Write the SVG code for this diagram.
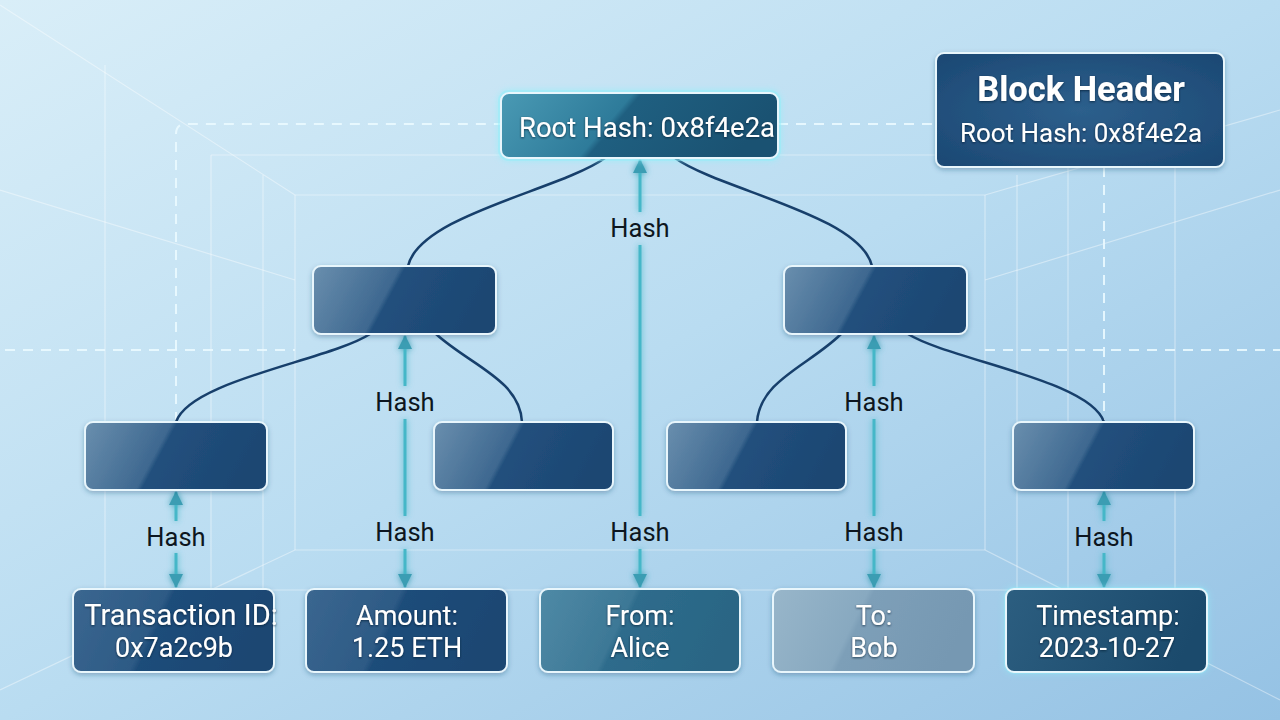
<svg xmlns="http://www.w3.org/2000/svg" width="1280" height="720" viewBox="0 0 1280 720">
<defs>
  <linearGradient id="bg" x1="0" y1="0" x2="1" y2="1">
    <stop offset="0" stop-color="#d9eef8"/>
    <stop offset="0.5" stop-color="#b9dcf1"/>
    <stop offset="1" stop-color="#95c2e4"/>
  </linearGradient>
  <linearGradient id="gDark" x1="0" y1="0" x2="1" y2="0.2">
    <stop offset="0" stop-color="#6a8fae"/>
    <stop offset="0.46" stop-color="#3e6890"/>
    <stop offset="0.49" stop-color="#22507d"/>
    <stop offset="1" stop-color="#1c4672"/>
  </linearGradient>
  <linearGradient id="gLeafDark" x1="0" y1="0" x2="1" y2="0.2">
    <stop offset="0" stop-color="#3b6790"/>
    <stop offset="0.46" stop-color="#2d5a85"/>
    <stop offset="0.49" stop-color="#1f4d7a"/>
    <stop offset="1" stop-color="#1a4672"/>
  </linearGradient>
  <linearGradient id="gTeal" x1="0" y1="0" x2="1" y2="0.2">
    <stop offset="0" stop-color="#4f8aa6"/>
    <stop offset="0.46" stop-color="#3d7896"/>
    <stop offset="0.49" stop-color="#2e6c8c"/>
    <stop offset="1" stop-color="#2a6584"/>
  </linearGradient>
  <linearGradient id="gGrey" x1="0" y1="0" x2="1" y2="0.2">
    <stop offset="0" stop-color="#98b6ca"/>
    <stop offset="0.46" stop-color="#88a9c0"/>
    <stop offset="0.49" stop-color="#7d9fb8"/>
    <stop offset="1" stop-color="#7698b2"/>
  </linearGradient>
  <linearGradient id="gTs" x1="0" y1="0" x2="1" y2="0.2">
    <stop offset="0" stop-color="#2c5e80"/>
    <stop offset="1" stop-color="#1b4a6c"/>
  </linearGradient>
  <linearGradient id="gRoot" x1="0" y1="0" x2="1" y2="0.2">
    <stop offset="0" stop-color="#4a9ab4"/>
    <stop offset="0.46" stop-color="#2e7b9a"/>
    <stop offset="0.49" stop-color="#1f5f80"/>
    <stop offset="1" stop-color="#1a5272"/>
  </linearGradient>
  <radialGradient id="gHeader" cx="0.5" cy="0.5" r="0.7">
    <stop offset="0" stop-color="#2d5f8c"/>
    <stop offset="1" stop-color="#1b4873"/>
  </radialGradient>
  <filter id="glow" x="-20%" y="-20%" width="140%" height="140%">
    <feGaussianBlur stdDeviation="3" result="b"/>
    <feMerge><feMergeNode in="b"/><feMergeNode in="SourceGraphic"/></feMerge>
  </filter>
  <filter id="shadow" x="-10%" y="-10%" width="120%" height="130%">
    <feDropShadow dx="0" dy="2" stdDeviation="2.5" flood-color="#234a6e" flood-opacity="0.35"/>
  </filter>
  <filter id="tshadow" x="-10%" y="-20%" width="120%" height="140%">
    <feDropShadow dx="0" dy="1" stdDeviation="1.2" flood-color="#061a2e" flood-opacity="0.7"/>
  </filter>
  <marker id="ah" viewBox="0 0 14 14" refX="13" refY="7" markerWidth="14" markerHeight="14" markerUnits="userSpaceOnUse" orient="auto-start-reverse">
    <path d="M0,0 L14,7 L0,14 z" fill="#3a9db3"/>
  </marker>
  <style>
    .room{fill:none;stroke:#ffffff;stroke-opacity:0.4;stroke-width:1.2}
    .dash{fill:none;stroke:#eaf9ff;stroke-opacity:0.9;stroke-width:2;stroke-dasharray:10 8}
    .box{stroke:#e8f6fc;stroke-width:2}
    .conn{fill:none;stroke:#173f6b;stroke-width:2.5}
    .hash{fill:none;stroke:#45b7c8;stroke-width:3}
    .hl{font-family:Roboto,"Liberation Sans",sans-serif;font-size:25.5px;fill:#0d1620;text-anchor:middle}
    .wt{font-family:Roboto,"Liberation Sans",sans-serif;font-size:27px;fill:#ffffff;text-anchor:middle}
  </style>
</defs>
<rect width="1280" height="720" fill="url(#bg)"/>
<g id="room">
  <path class="room" d="M0,5 L295,195 M0,190 L295,280 M1280,110 L985,195 M1280,190 L985,280 M0,690 L295,550 M1280,700 L985,550"/>
  <path class="room" d="M105,65 V670 M211,155 V620 M263,175 V590 M295,195 V550 M985,195 V550 M1017,175 V590 M1068,155 V620 M1175,65 V670"/>
  <path class="room" d="M211,155 H1068 M295,195 H985 M295,550 H985 M211,590 H1068"/>
</g>
<g id="guides">
  <path class="dash" d="M176,422 V134 Q176,124 186,124 H501"/>
  <path class="dash" d="M778,124 H936"/>
  <path class="dash" d="M1104,167 V422"/>
  <path class="dash" d="M5,350 H295"/>
  <path class="dash" d="M985,350 H1280"/>
</g>
<g id="connectors">
  <path class="conn" d="M605,158 C560,190 420,215 408,266"/>
  <path class="conn" d="M675,158 C720,190 860,215 872,266"/>
  <path class="conn" d="M370,334 C330,360 190,380 176,422"/>
  <path class="conn" d="M436,334 C470,365 520,380 522,422"/>
  <path class="conn" d="M841,334 C810,365 760,380 757,422"/>
  <path class="conn" d="M908,334 C950,360 1090,380 1104,422"/>
  <g filter="url(#glow)">
    <path class="hash" d="M176,492 V521 M176,553 V587" marker-start="url(#ah)" marker-end="url(#ah)"/>
    <path class="hash" d="M405,336 V386 M405,419 V516 M405,549 V587" marker-start="url(#ah)" marker-end="url(#ah)"/>
    <path class="hash" d="M640,160 V212 M640,245 V516 M640,549 V587" marker-start="url(#ah)" marker-end="url(#ah)"/>
    <path class="hash" d="M874,336 V386 M874,419 V516 M874,549 V587" marker-start="url(#ah)" marker-end="url(#ah)"/>
    <path class="hash" d="M1104,492 V521 M1104,553 V587" marker-start="url(#ah)" marker-end="url(#ah)"/>
  </g>
  <text class="hl" x="176" y="546">Hash</text>
  <text class="hl" x="405" y="411">Hash</text>
  <text class="hl" x="405" y="541">Hash</text>
  <text class="hl" x="640" y="237">Hash</text>
  <text class="hl" x="640" y="541">Hash</text>
  <text class="hl" x="874" y="411">Hash</text>
  <text class="hl" x="874" y="541">Hash</text>
  <text class="hl" x="1104" y="546">Hash</text>
</g>
<g id="root">
  <rect x="501" y="93" width="277" height="65" rx="8" fill="none" stroke="#8ff0fa" stroke-width="6" opacity="0.6" filter="url(#glow)"/>
  <rect class="box" x="501" y="93" width="277" height="65" rx="8" fill="url(#gRoot)" stroke="#b5f6fc"/>
  <text class="wt" x="647" y="137" style="font-size:27.5px" filter="url(#tshadow)">Root Hash: 0x8f4e2a</text>
</g>
<g id="block-header">
  <rect class="box" x="936" y="53" width="288" height="114" rx="8" fill="url(#gHeader)" filter="url(#shadow)"/>
  <text class="wt" x="1081" y="101" style="font-size:34.5px;font-weight:bold" filter="url(#tshadow)">Block Header</text>
  <text class="wt" x="1081" y="142" style="font-size:26px" filter="url(#tshadow)">Root Hash: 0x8f4e2a</text>
</g>
<g id="hash-l1-left"><rect class="box" x="313" y="266" width="183" height="68" rx="8" fill="url(#gDark)" filter="url(#shadow)"/></g>
<g id="hash-l1-right"><rect class="box" x="784" y="266" width="183" height="68" rx="8" fill="url(#gDark)" filter="url(#shadow)"/></g>
<g id="hash-l2-a"><rect class="box" x="85" y="422" width="182" height="68" rx="8" fill="url(#gDark)" filter="url(#shadow)"/></g>
<g id="hash-l2-b"><rect class="box" x="434" y="422" width="179" height="68" rx="8" fill="url(#gDark)" filter="url(#shadow)"/></g>
<g id="hash-l2-c"><rect class="box" x="667" y="422" width="179" height="68" rx="8" fill="url(#gDark)" filter="url(#shadow)"/></g>
<g id="hash-l2-d"><rect class="box" x="1013" y="422" width="181" height="68" rx="8" fill="url(#gDark)" filter="url(#shadow)"/></g>
<g id="leaf-txid">
  <rect class="box" x="73" y="589" width="201" height="83" rx="8" fill="url(#gLeafDark)" filter="url(#shadow)"/>
  <text class="wt" x="181" y="625" style="font-size:29px" filter="url(#tshadow)">Transaction ID:</text>
  <text class="wt" x="174" y="657" filter="url(#tshadow)">0x7a2c9b</text>
</g>
<g id="leaf-amount">
  <rect class="box" x="306" y="589" width="201" height="83" rx="8" fill="url(#gLeafDark)" filter="url(#shadow)"/>
  <text class="wt" x="407" y="625" filter="url(#tshadow)">Amount:</text>
  <text class="wt" x="407" y="657" filter="url(#tshadow)">1.25 ETH</text>
</g>
<g id="leaf-from">
  <rect class="box" x="540" y="589" width="200" height="83" rx="8" fill="url(#gTeal)" filter="url(#shadow)"/>
  <text class="wt" x="640" y="625" filter="url(#tshadow)">From:</text>
  <text class="wt" x="640" y="657" filter="url(#tshadow)">Alice</text>
</g>
<g id="leaf-to">
  <rect class="box" x="773" y="589" width="201" height="83" rx="8" fill="url(#gGrey)" filter="url(#shadow)"/>
  <text class="wt" x="874" y="625" filter="url(#tshadow)">To:</text>
  <text class="wt" x="874" y="657" filter="url(#tshadow)">Bob</text>
</g>
<g id="leaf-timestamp">
  <rect x="1006" y="589" width="201" height="83" rx="8" fill="none" stroke="#8ff0fa" stroke-width="4" opacity="0.5" filter="url(#glow)"/>
  <rect class="box" x="1006" y="589" width="201" height="83" rx="8" fill="url(#gTs)" stroke="#a8eef8"/>
  <text class="wt" x="1108" y="625" filter="url(#tshadow)">Timestamp:</text>
  <text class="wt" x="1107" y="657" filter="url(#tshadow)">2023-10-27</text>
</g>
</svg>
